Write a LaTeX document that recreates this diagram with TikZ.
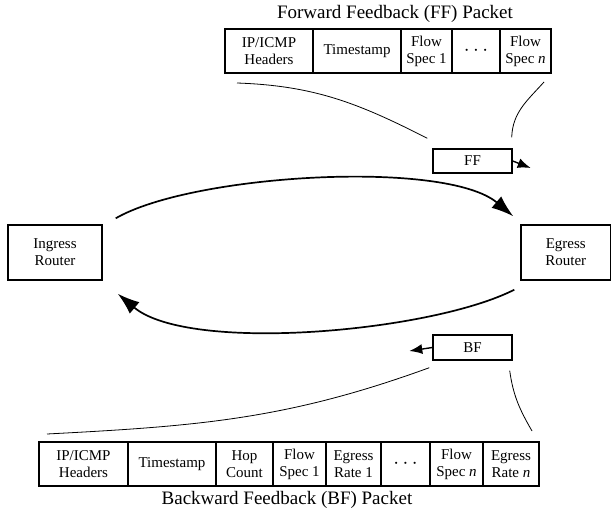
\documentclass[tikz,border=0pt]{standalone}
\usepackage{fontspec}
\setmainfont{Liberation Serif}
\usetikzlibrary{positioning, arrows.meta}

\begin{document}
\begin{tikzpicture}[
    x=1pt, y=1pt,
    node distance=0pt,
    field/.style={rectangle, draw, line width=1.6pt, outer sep=0pt, minimum height=44pt, inner xsep=1pt, align=center, font=\fontsize{15}{17}\selectfont},
    router/.style={rectangle, draw, line width=1.4pt, minimum width=94pt, minimum height=55pt, align=center, font=\fontsize{15}{17}\selectfont},
    tag/.style={rectangle, draw, line width=1.4pt, minimum width=79pt, minimum height=24pt, font=\fontsize{15}{17}\selectfont},
    caption/.style={font=\fontsize{19}{22}\selectfont},
    flow/.style={-{Latex[length=22pt, width=15pt]}, line width=1.7pt},
    hop/.style={-{Latex[length=13pt, width=10pt]}, line width=1.4pt},
    callout/.style={line width=0.8pt}
]
\useasboundingbox (0,0) rectangle (612,515);

% routers
\node[router] (ingress) at (55,262.5) {Ingress\\ Router};
\node[router, minimum width=89.5pt] (egress) at (565.75,262.5) {Egress\\ Router};

% feedback packets on the way
\node[tag] (ff) at (472.5,354) {FF};
\node[tag, minimum height=25pt] (bf) at (472.5,167.5) {BF};
\coordinate[below right=7pt and 18pt of ff.east] (ffnext);
\coordinate[below left=3.5pt and 23pt of bf.west] (bfnext);

% forward feedback packet
\node[field, minimum width=88pt, anchor=west] (ffhdr) at (225,464) {IP/ICMP\\ Headers};
\node[field, minimum width=88pt, right=of ffhdr] (ffts) {Timestamp};
\node[field, minimum width=51pt, right=of ffts] (fffs1) {Flow\\ Spec 1};
\node[field, minimum width=48pt, right=of fffs1] (ffdots) {\fontsize{20}{20}\selectfont$\cdots$};
\node[field, minimum width=51pt, right=of ffdots] (fffsn) {Flow\\ Spec \textit{n}};
\node[caption] (fftitle) at (395,501) {Forward Feedback (FF) Packet};

% backward feedback packet
\node[field, minimum width=89pt, anchor=west] (bfhdr) at (39,51) {IP/ICMP\\ Headers};
\node[field, minimum width=88pt, right=of bfhdr] (bfts) {Timestamp};
\node[field, minimum width=57pt, right=of bfts] (bfhop) {Hop\\ Count};
\node[field, minimum width=53pt, right=of bfhop] (bffs1) {Flow\\ Spec 1};
\node[field, minimum width=55pt, right=of bffs1] (bfrate1) {Egress\\ Rate 1};
\node[field, minimum width=49pt, right=of bfrate1] (bfdots) {\fontsize{20}{20}\selectfont$\cdots$};
\node[field, minimum width=53pt, right=of bfdots] (bffsn) {Flow\\ Spec \textit{n}};
\node[field, minimum width=56pt, right=of bffsn] (bfraten) {Egress\\ Rate \textit{n}};
\node[caption] (bftitle) at (287,15) {Backward Feedback (BF) Packet};

% main loop between the routers
\draw[flow] ([shift={(13,6)}]ingress.north east) to[out=30, in=140, looseness=0.57] ([shift={(-7,8)}]egress.north west);
\draw[flow] ([shift={(-6,-9)}]egress.south west) to[out=207, in=-40, looseness=0.6] ([shift={(15,-13)}]ingress.south east);

\draw[hop] (ff.east) -- (ffnext);
\draw[hop] (bf.west) -- (bfnext);

% zoom lines to the packet layouts
\draw[callout] ([shift={(12,-10)}]ffhdr.south west) to[out=-2, in=153] ([shift={(-5,10)}]ff.north west);
\draw[callout] ([shift={(-1,11)}]ff.north east) to[out=88, in=228] ([shift={(-7,-9)}]fffsn.south east);
\draw[callout] ([shift={(-3,-7)}]bf.south west) to[out=200, in=3] ([shift={(8,8)}]bfhdr.north west);
\draw[callout] ([shift={(-3,-10)}]bf.south east) to[out=-82, in=120] ([shift={(-7,11)}]bfraten.north east);
\end{tikzpicture}
\end{document}
